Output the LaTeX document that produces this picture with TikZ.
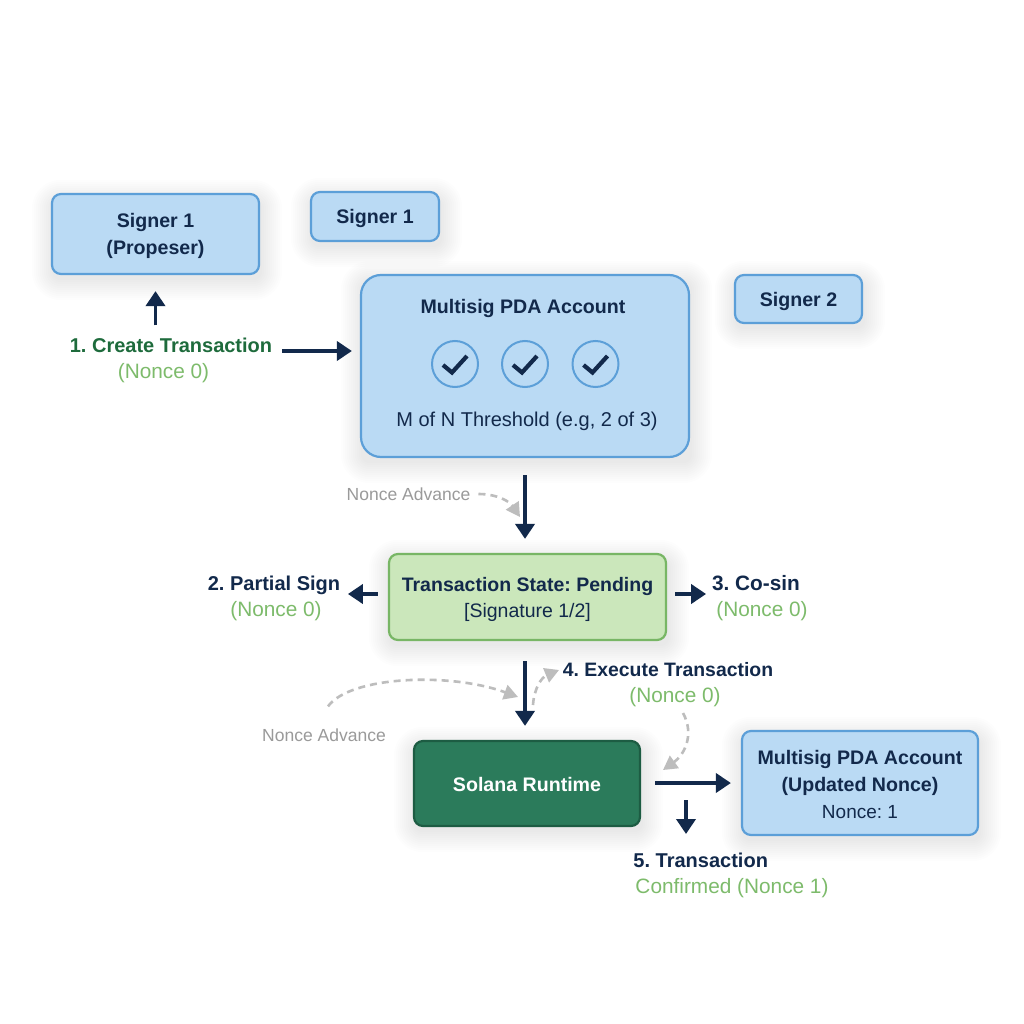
\documentclass[tikz,border=0pt]{standalone}
\usepackage{fontspec}
\setmainfont{Liberation Sans}
\usetikzlibrary{arrows.meta,calc}
\definecolor{navy}{HTML}{12294B}
\definecolor{boxblue}{HTML}{BADAF4}
\definecolor{edgeblue}{HTML}{5C9FD8}
\definecolor{darkgreen}{HTML}{1E6B3C}
\definecolor{lightgreen}{HTML}{7DBB6B}
\definecolor{pendfill}{HTML}{CBE7BB}
\definecolor{pendedge}{HTML}{78B665}
\definecolor{solfill}{HTML}{2B7B5B}
\definecolor{soledge}{HTML}{1D5C43}
\definecolor{nonegray}{HTML}{9A9A9A}
\definecolor{dashgray}{HTML}{BDBDBD}
\newcommand{\softshadow}[1]{%
  \foreach \g in {20,18,16,14,12,10,8,6,4,2,0}{%
    \fill[black,opacity=0.008,rounded corners=9pt+\g*1pt]
      ($(#1.south west)+(-\g,\g+6)$) rectangle ($(#1.north east)+(\g+3,-\g+6)$);
  }%
}
\newcommand{\topgap}[1]{\rule{0pt}{#1pt}}
\tikzset{
  x=1pt,y=-1pt,
  box/.style={draw=edgeblue,fill=boxblue,line width=2.2pt,rounded corners=#1,text=navy,align=center,inner sep=0pt},
  box/.default=9pt,
  titlefont/.style={font=\fontsize{19.6}{27}\selectfont\bfseries},
  bodyfont/.style={font=\fontsize{20}{27}\selectfont},
  mainarrow/.style={draw=navy,line width=3.8pt,-{Triangle[length=15pt,width=19pt]}},
  softarrow/.style={draw=dashgray,line width=2.6pt,dash pattern=on 7pt off 5pt,-{Triangle[length=14pt,width=15pt]}},
  steplabel/.style={inner sep=0pt,text=navy,font=\fontsize{20}{26}\selectfont},
  graylabel/.style={inner sep=0pt,text=nonegray,font=\fontsize{17.5}{22}\selectfont},
  tick/.style={draw=navy,line width=4.2pt,line cap=butt,line join=miter},
  tickring/.style={circle,draw=edgeblue,line width=2pt,minimum size=46pt,inner sep=0pt},
}
\newcommand{\gn}[1]{\textcolor{lightgreen}{\fontsize{20.8}{26}\selectfont #1}}
\begin{document}
\frenchspacing
\begin{tikzpicture}
\useasboundingbox (0,0) rectangle (1024,1024);
\fill[white] (0,0) rectangle (1024,1024);
\path
  (155.5,234) node[minimum width=207pt,minimum height=80pt,inner sep=0pt] (sp0) {}
  (375,216.5) node[minimum width=128pt,minimum height=49pt,inner sep=0pt] (s10) {}
  (798.5,299) node[minimum width=127pt,minimum height=48pt,inner sep=0pt] (s20) {}
  (525,366) node[minimum width=328pt,minimum height=182pt,inner sep=0pt] (ms0) {}
  (527.5,597) node[minimum width=277pt,minimum height=86pt,inner sep=0pt] (pd0) {}
  (527,783.5) node[minimum width=226pt,minimum height=85pt,inner sep=0pt] (sr0) {}
  (860,783) node[minimum width=236pt,minimum height=104pt,inner sep=0pt] (up0) {};
\softshadow{sp0}\softshadow{s10}\softshadow{s20}\softshadow{ms0}\softshadow{pd0}\softshadow{sr0}\softshadow{up0}

\node[box,titlefont,minimum width=207pt,minimum height=80pt] (sp) at (155.5,234) {\topgap{19}Signer 1\\(Propeser)};
\node[box,titlefont,minimum width=128pt,minimum height=49pt] (s1) at (375,216.5) {\topgap{19}Signer 1};
\node[box,titlefont,minimum width=127pt,minimum height=48pt] (s2) at (798.5,299) {\topgap{19}Signer 2};
\node[box=20pt,minimum width=328pt,minimum height=182pt] (ms) at (525,366) {};
\node[inner sep=0pt,text=navy,titlefont] (mst) at (523,308) {Multisig PDA Account};
\node[inner sep=0pt,text=navy,bodyfont] (msb) at (527,421) {M of N Threshold (e.g, 2 of 3)};
\node[tickring] (t1) at (455,364) {};
\node[tickring] (t2) at (525,364) {};
\node[tickring] (t3) at (595.5,364) {};
\foreach \t in {t1,t2,t3}{\draw[tick] (\t) ++(-12,1) -- ++(9,7.5) -- ++(15,-16.5);}
\node[box,draw=pendedge,fill=pendfill,minimum width=277pt,minimum height=86pt,font=\fontsize{19.5}{27}\selectfont] (pd) at (527.5,597)
  {\topgap{19}\textbf{Transaction State: Pending}\\[-1pt]{\fontsize{19.5}{24}\selectfont [Signature 1/2]}};
\node[box,draw=soledge,fill=solfill,text=white,titlefont,minimum width=226pt,minimum height=85pt] (sr) at (527,783.5) {\topgap{17}Solana Runtime};
\node[box,minimum width=236pt,minimum height=104pt,font=\fontsize{19.6}{27}\selectfont] (up) at (860,783)
  {\topgap{17}\textbf{Multisig PDA Account}\\\textbf{(Updated Nonce)}\\{\fontsize{19}{24}\selectfont Nonce: 1}};

\node[steplabel,align=center] (l1) at (171,360) {\textcolor{darkgreen}{\bfseries 1. Create Transaction}\\\gn{(Nonce 0)}\hspace*{15pt}};
\node[steplabel,align=center] (l2) at (274,598) {\textbf{2. Partial Sign}\\\hspace*{4pt}\gn{(Nonce 0)}};
\node[steplabel,align=center] (l3) at (760,598) {{\fontsize{20.8}{26}\selectfont\textbf{3. Co-sin}}\hspace*{8pt}\\\hspace*{4pt}\gn{(Nonce 0)}};
\node[steplabel,align=center] (l4) at (668,685) {{\fontsize{19.4}{26}\selectfont\textbf{4. Execute Transaction}}\\\hspace*{14pt}\gn{(Nonce 0)}};
\node[steplabel,align=left] (l5) at (732,875) {\hspace*{-2pt}\textbf{5. Transaction}\\\gn{Confirmed (Nonce 1)}};
\node[graylabel] (na1) at (408.5,494) {Nonce Advance};
\node[graylabel] (na2) at (324,735) {Nonce Advance};

\coordinate (c1) at (282,351);
\coordinate (c5) at (686,800);
\draw[mainarrow,shorten >=16pt] ($(l1.north -| sp.south)+(0,-12)$) -- (sp.south);
\draw[mainarrow,shorten >=8pt] (c1) -- (c1 -| ms.west);
\draw[mainarrow,shorten <=17pt,shorten >=14pt] (ms.south) -- (ms.south |- pd.north);
\draw[mainarrow,shorten <=10pt] ($(pd.west)+(0,-3)$) -- ($(pd.west)+(-40,-3)$) coordinate (c2);
\draw[mainarrow,shorten <=8pt] ($(pd.east)+(0,-3)$) -- ($(pd.east)+(39,-3)$) coordinate (c3);
\draw[mainarrow,shorten <=20pt,shorten >=14pt] (ms.south |- pd.south) -- (ms.south |- sr.north);
\draw[mainarrow,shorten <=14pt,shorten >=10pt] (sr.east |- up.west) -- (up.west);
\draw[mainarrow] (c5) -- ($(c5)+(0,34)$) coordinate (c6);

\draw[softarrow] (na1.east)++(8,0) .. controls (498,494) and (510,502) .. (520,517);
\draw[softarrow] (na2.north)++(4,-22) .. controls (350,676) and (450,672) .. (518,697);
\draw[softarrow] (533,705) .. controls (534,688) and (542,677) .. (559,670);
\draw[softarrow] (683,713) .. controls (695,735) and (684,755) .. (663,770);
\end{tikzpicture}
\end{document}
